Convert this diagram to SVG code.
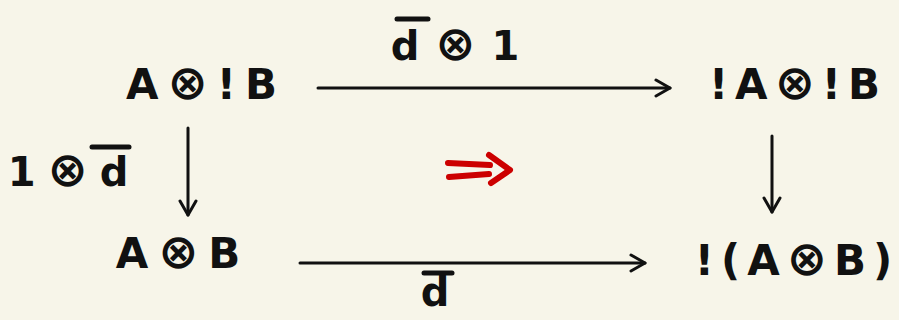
<svg xmlns="http://www.w3.org/2000/svg" width="899" height="320" viewBox="0 0 899 320">
<defs>
<style>
.lbl{font-family:"DejaVu Sans","Liberation Sans",sans-serif;font-weight:bold;fill:#111;}
.node{font-size:42px;}
.edge{font-size:40px;}
.ox{font-size:48px;}
.ln{stroke:#111;stroke-width:3;fill:none;stroke-linecap:round;stroke-linejoin:round;}
.bar{stroke:#111;stroke-width:5;stroke-linecap:round;}
.red{stroke:#cc0000;stroke-width:6;fill:none;stroke-linecap:round;stroke-linejoin:round;}
</style>
<marker id="ah" viewBox="0 0 20 20" refX="18" refY="10" markerWidth="20" markerHeight="20" markerUnits="userSpaceOnUse" orient="auto">
<path d="M4 2 L18 10 L4 18" fill="none" stroke="#111" stroke-width="3" stroke-linecap="round" stroke-linejoin="round"/>
</marker>
</defs>
<rect width="899" height="320" fill="#f7f5e9"/>
<g id="n1"><text class="lbl node" x="206" y="99" text-anchor="middle" letter-spacing="9">A<tspan class="ox">⊗</tspan>!B</text></g>
<g id="n2"><text class="lbl node" x="798" y="99" text-anchor="middle" letter-spacing="7">!A<tspan class="ox">⊗</tspan>!B</text></g>
<g id="n3"><text class="lbl node" x="183" y="268" text-anchor="middle" letter-spacing="10">A<tspan class="ox">⊗</tspan>B</text></g>
<g id="n4"><text class="lbl node" x="797" y="275" text-anchor="middle" letter-spacing="7">!(A<tspan class="ox">⊗</tspan>B)</text></g>
<g id="connectors">
<line class="ln" x1="318" y1="88" x2="670" y2="88" marker-end="url(#ah)"/>
<line class="ln" x1="188" y1="128" x2="188" y2="215" marker-end="url(#ah)"/>
<line class="ln" x1="772" y1="136" x2="772" y2="212" marker-end="url(#ah)"/>
<line class="ln" x1="300" y1="263" x2="645" y2="263" marker-end="url(#ah)"/>
<text class="lbl edge" x="463" y="60" text-anchor="middle" letter-spacing="16">d<tspan class="ox">⊗</tspan>1</text>
<line class="bar" x1="397" y1="19" x2="428" y2="19"/>
<text class="lbl edge" x="74" y="186" text-anchor="middle" letter-spacing="12">1<tspan class="ox">⊗</tspan>d</text>
<line class="bar" x1="92" y1="147" x2="129" y2="147"/>
<text class="lbl edge" x="435" y="306" text-anchor="middle">d</text>
<line class="bar" x1="424" y1="273" x2="452" y2="273"/>
<g id="twocell">
<path class="red" d="M448 163 L490 165 M449 177 L489 174 M489 155 L510 170 L491 183"/>
</g>
</g>
</svg>
